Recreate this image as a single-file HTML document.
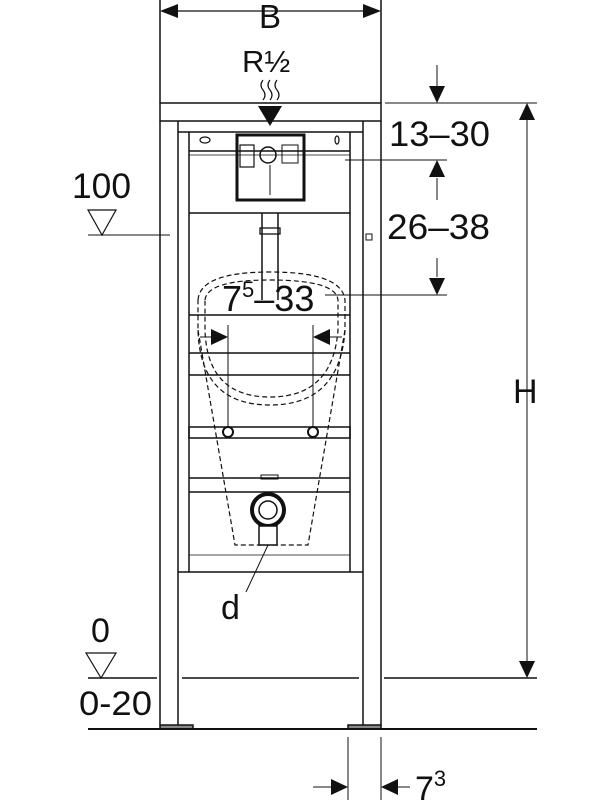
<!DOCTYPE html>
<html><head><meta charset="utf-8"><style>
html,body{margin:0;padding:0;background:#fff;}
svg{display:block;font-family:"Liberation Sans",sans-serif;}
</style></head><body>
<svg width="612" height="800" viewBox="0 0 612 800" xmlns="http://www.w3.org/2000/svg">
<g stroke="#111" fill="none" stroke-width="1.5">
<!-- B dim -->
<line x1="160" y1="0" x2="160" y2="103"/><line x1="381" y1="0" x2="381" y2="103"/>
<line x1="162" y1="11" x2="379" y2="11" stroke-width="1.3"/>
<path d="M160,11l18,-7v14z M381,11l-18,-7v14z" fill="#111" stroke="none"/>
<!-- R wavy -->
<path d="M263,80q-4,5 0,10q4,5 0,10 M270,80q-4,5 0,10q4,5 0,10 M277,80q-4,5 0,10q4,5 0,10" stroke-width="1.2"/>
<path d="M258,106h24l-12,20z" fill="#111" stroke="none"/>
<!-- frame -->
<rect x="160" y="103" width="221" height="18"/>
<line x1="160" y1="121" x2="160" y2="725"/><line x1="178" y1="121" x2="178" y2="725"/>
<line x1="363" y1="121" x2="363" y2="725"/><line x1="381" y1="121" x2="381" y2="725"/>
<line x1="178" y1="132" x2="363" y2="132"/>
<line x1="189" y1="132" x2="189" y2="572"/><line x1="350" y1="132" x2="350" y2="572"/>
<line x1="178" y1="572" x2="363" y2="572"/>
<line x1="189" y1="151" x2="350" y2="151"/><line x1="189" y1="155" x2="350" y2="155" stroke-width="0.8"/>
<line x1="189" y1="213" x2="350" y2="213"/>
<line x1="189" y1="315" x2="350" y2="315"/>
<line x1="189" y1="353" x2="350" y2="353"/>
<line x1="189" y1="375" x2="350" y2="375"/>
<rect x="189" y="427" width="161" height="11"/>
<line x1="189" y1="478" x2="350" y2="478"/>
<line x1="189" y1="492" x2="350" y2="492"/>
<line x1="189" y1="555" x2="350" y2="555" stroke-width="0.8"/>
<rect x="261" y="475" width="17" height="4" stroke-width="1"/>
<rect x="366" y="234" width="6" height="6" stroke-width="1"/>
<ellipse cx="205" cy="140" rx="5" ry="3" stroke-width="1.2"/>
<ellipse cx="337" cy="140" rx="2" ry="4" stroke-width="1.2"/>
<!-- cistern box -->
<rect x="237" y="135" width="67" height="65" stroke-width="3"/>
<circle cx="268" cy="155" r="8" stroke-width="1.5"/>
<rect x="282" y="145" width="16" height="18" stroke-width="1"/>
<rect x="240" y="145" width="14" height="22" stroke-width="1.2"/>
<line x1="270" y1="165" x2="270" y2="195" stroke-width="1"/>
<!-- pipe -->
<line x1="262" y1="213" x2="262" y2="300"/><line x1="278" y1="213" x2="278" y2="300"/>
<rect x="260" y="228" width="20" height="6" stroke-width="1.3"/>
<!-- dashed urinal -->
<g stroke-dasharray="5,3" stroke-width="1.2">
<path d="M198,300 Q200,272 270,272 Q342,272 345,300 L345,330 Q340,405 270,405 Q200,405 198,330 Z"/>
<path d="M205,300 Q207,280 270,280 Q336,280 338,300 L338,330 Q333,397 270,397 Q207,397 205,330 Z"/>
<path d="M198,330 L235,545 L308,545 L345,330"/>
</g>
<!-- 7-33 dim -->
<line x1="228" y1="325" x2="228" y2="432" stroke-width="1"/>
<line x1="313" y1="325" x2="313" y2="432" stroke-width="1"/>
<path d="M228,337l-17,-8v16z M313,337l17,-8v16z" fill="#111" stroke="none"/>
<line x1="200" y1="337" x2="212" y2="337" stroke-width="1"/><line x1="330" y1="337" x2="342" y2="337" stroke-width="1"/>
<circle cx="228" cy="432" r="5" stroke-width="2" fill="#fff"/>
<circle cx="313" cy="432" r="5" stroke-width="2" fill="#fff"/>
<!-- outlet -->
<circle cx="268" cy="510" r="16" stroke-width="4"/>
<circle cx="268" cy="510" r="9" stroke-width="1.5"/>
<rect x="259" y="526" width="18" height="19" stroke-width="1.5" fill="#fff"/>
<line x1="268" y1="545" x2="246" y2="592" stroke-width="1"/>
<!-- feet -->
<rect x="160" y="725" width="33" height="4" fill="#888"/>
<rect x="348" y="725" width="33" height="4" fill="#888"/>
<!-- floor lines -->
<line x1="88" y1="678" x2="157" y2="678"/><line x1="182" y1="678" x2="359" y2="678"/><line x1="384" y1="678" x2="537" y2="678"/>
<line x1="88" y1="729" x2="537" y2="729" stroke-width="2"/>
<!-- 100 -->
<line x1="88" y1="235" x2="170" y2="235" stroke-width="1"/>
<path d="M88,210h28l-14,25z" stroke-width="1.2"/>
<path d="M86,653h30l-15,25z" stroke-width="1.2"/>
<!-- right dims -->
<line x1="385" y1="103" x2="537" y2="103" stroke-width="1"/>
<line x1="527" y1="105" x2="527" y2="676" stroke-width="1"/>
<path d="M527,103l-8,17h16z M527,678l-8,-17h16z" fill="#111" stroke="none"/>
<line x1="437" y1="65" x2="437" y2="90" stroke-width="1"/>
<path d="M437,103l-8,-17h16z" fill="#111" stroke="none"/>
<line x1="345" y1="160" x2="447" y2="160" stroke-width="1"/>
<line x1="437" y1="178" x2="437" y2="200" stroke-width="1"/>
<line x1="437" y1="258" x2="437" y2="277" stroke-width="1"/>
<path d="M437,160l-8,17h16z M437,295l-8,-17h16z" fill="#111" stroke="none"/>
<line x1="325" y1="295" x2="447" y2="295" stroke-width="1"/>
<!-- 7^3 -->
<line x1="348" y1="737" x2="348" y2="800" stroke-width="1"/><line x1="381" y1="737" x2="381" y2="800" stroke-width="1"/>
<line x1="313" y1="787" x2="336" y2="787" stroke-width="1"/><line x1="393" y1="787" x2="410" y2="787" stroke-width="1"/>
<path d="M348,787l-17,-8v16z M381,787l17,-8v16z" fill="#111" stroke="none"/>
</g>
<g fill="#111" font-size="35">
<text x="270" y="28" text-anchor="middle" font-size="33">B</text>
<text x="242" y="72" font-size="31">R½</text>
<text x="389" y="146" textLength="101" lengthAdjust="spacingAndGlyphs">13–30</text>
<text x="387" y="239" textLength="103" lengthAdjust="spacingAndGlyphs">26–38</text>
<text x="513" y="403" font-size="34">H</text>
<text x="72" y="198" textLength="59" lengthAdjust="spacingAndGlyphs">100</text>
<text x="222" y="311" font-size="36">7<tspan font-size="22" dy="-14">5</tspan><tspan dy="14">–33</tspan></text>
<text x="221" y="619" font-size="34">d</text>
<text x="91" y="642" font-size="34">0</text>
<text x="79" y="715" textLength="73" lengthAdjust="spacingAndGlyphs" font-size="34">0-20</text>
<text x="415" y="800" font-size="34">7<tspan font-size="22" dy="-14">3</tspan></text>
</g>
</svg>
</body></html>
